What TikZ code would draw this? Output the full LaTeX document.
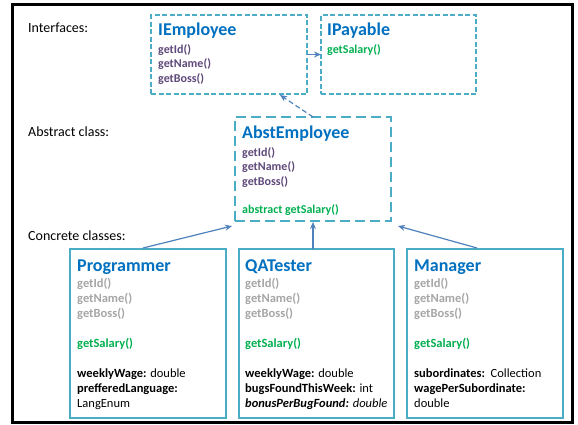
\documentclass[tikz,border=0pt]{standalone}
\usepackage{fontspec}
\setmainfont{Carlito}
\usetikzlibrary{arrows.meta}

\definecolor{titleblue}{HTML}{0070C0}
\definecolor{methpurple}{HTML}{5F497A}
\definecolor{methgreen}{HTML}{00B050}
\definecolor{inherited}{HTML}{A6A6A6}
\definecolor{boxaqua}{HTML}{4BACC6}
\definecolor{arrowblue}{HTML}{4F81BD}

\tikzset{
  frame/.style={draw=black, line width=3pt},
  classbox/.style={rectangle, anchor=north west, inner sep=0pt, outer sep=0pt},
  ifacebox/.style={classbox, draw=boxaqua, line width=1.3pt, dash pattern=on 5pt off 2.5pt},
  abstbox/.style={classbox, draw=boxaqua, line width=1.5pt, dash pattern=on 10pt off 5pt},
  concbox/.style={classbox, draw=boxaqua, line width=1.3pt,
    minimum width=156pt, minimum height=169pt},
  sectlabel/.style={anchor=base west, inner sep=0pt, font=\fontsize{14}{17}\selectfont},
  classtitle/.style={anchor=base west, inner sep=0pt, text=titleblue,
    font=\fontsize{18}{22}\selectfont\bfseries},
  ifacebody/.style={anchor=north west, inner sep=0pt, align=left,
    font=\fontsize{12}{14.4}\selectfont\bfseries},
  concbody/.style={anchor=north west, inner sep=0pt, align=left,
    font=\fontsize{12.5}{15}\selectfont},
  realize/.style={draw=arrowblue, line width=1.2pt, dash pattern=on 5pt off 3pt,
    -{Stealth[length=7pt,width=6pt]}},
  extend/.style={draw=arrowblue, line width=1.2pt, -{Stealth[length=7pt,width=6pt]}},
}

\newcommand{\topline}{\rule{0pt}{11pt}}

\begin{document}
\begin{tikzpicture}[x=1pt, y=-1pt]
\useasboundingbox (0,0) rectangle (578,424);
\fill[white] (0,0) rectangle (578,424);
\draw[frame] (12.5,4.5) rectangle (572.5,422.5);

% section labels
\node[sectlabel] (lblIface) at (28,32) {Interfaces:};
\node[sectlabel] (lblAbst) at (28,136) {Abstract class:};
\node[sectlabel] (lblConc) at (28,240) {Concrete classes:};

% interfaces
\node[ifacebox, minimum width=156pt, minimum height=79pt] (ie) at (151,15) {};
\node[classtitle] (ieTitle) at (158,35) {IEmployee};
\node[ifacebody, text=methpurple] (ieBody) at (158,42)
  {\topline getId()\\ getName()\\ getBoss()};

\node[ifacebox, minimum width=155pt, minimum height=79pt] (ip) at (321,15) {};
\node[classtitle] (ipTitle) at (327,35) {IPayable};
\node[ifacebody, text=methgreen] (ipBody) at (327,42) {\topline getSalary()};

% abstract class
\node[abstbox, minimum width=156pt, minimum height=104pt] (ab) at (235,117) {};
\node[classtitle] (abTitle) at (242,138) {AbstEmployee};
\node[ifacebody, text=methpurple] (abBody) at (242,145)
  {\topline getId()\\ getName()\\ getBoss()\\[14.4pt]
   \textcolor{methgreen}{abstract getSalary()}};

% concrete classes
\node[concbox] (pr) at (70,249) {};
\node[classtitle] (prTitle) at (77,271) {Programmer};
\node[concbody] (prBody) at (77,276)
  {\topline\bfseries\textcolor{inherited}{getId()}\\
   \bfseries\textcolor{inherited}{getName()}\\
   \bfseries\textcolor{inherited}{getBoss()}\\[15pt]
   \bfseries\textcolor{methgreen}{getSalary()}\\[15pt]
   \textbf{weeklyWage:} double\\
   \textbf{prefferedLanguage:}\\
   LangEnum};

\node[concbox, minimum width=155pt] (qa) at (239,249) {};
\node[classtitle] (qaTitle) at (245,271) {QATester};
\node[concbody] (qaBody) at (245,276)
  {\topline\bfseries\textcolor{inherited}{getId()}\\
   \bfseries\textcolor{inherited}{getName()}\\
   \bfseries\textcolor{inherited}{getBoss()}\\[15pt]
   \bfseries\textcolor{methgreen}{getSalary()}\\[15pt]
   \textbf{weeklyWage:} double\\
   \textbf{bugsFoundThisWeek:} int\\
   \textit{\textbf{bonusPerBugFound:} double}};

\node[concbox] (mg) at (407,249) {};
\node[classtitle] (mgTitle) at (414,271) {Manager};
\node[concbody] (mgBody) at (414,276)
  {\topline\bfseries\textcolor{inherited}{getId()}\\
   \bfseries\textcolor{inherited}{getName()}\\
   \bfseries\textcolor{inherited}{getBoss()}\\[15pt]
   \bfseries\textcolor{methgreen}{getSalary()}\\[15pt]
   \textbf{subordinates:}\ \ Collection\\
   \textbf{wagePerSubordinate:}\\
   double};

% relations
\draw[extend] (ie.east) -- (ip.west);
\draw[realize] (ab.north) -- ([xshift=-27pt,yshift=-1pt]ie.south east);
\draw[extend] ([xshift=-5pt,yshift=1pt]pr.north) -- ([xshift=-3pt,yshift=-5pt]ab.south west);
\draw[extend] ([xshift=-3.5pt]qa.north) -- ([yshift=-1pt]ab.south);
\draw[extend] ([xshift=-8pt,yshift=1pt]mg.north) -- ([xshift=7pt,yshift=-5pt]ab.south east);
\end{tikzpicture}
\end{document}
